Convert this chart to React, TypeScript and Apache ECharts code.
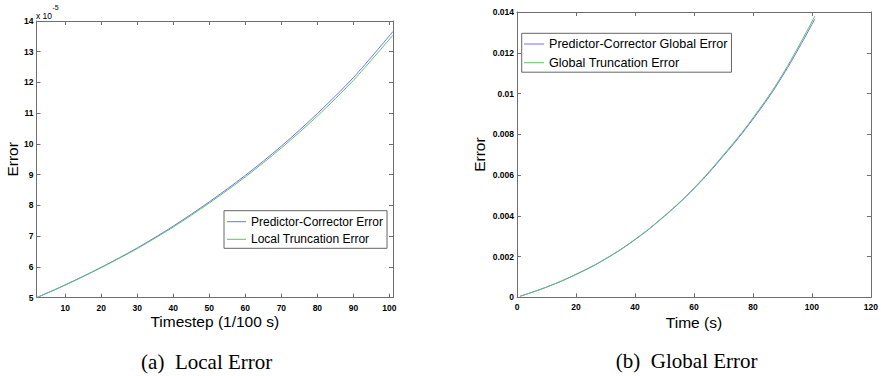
import React, { useEffect, useRef } from "react";
import * as echarts from "echarts";

// Left panel: local error (values in units of 1e-5)
const localSteps = [2, 10, 20, 30, 40, 50, 60, 70, 80, 90, 101];
const pcLocalError = [5.0, 5.42, 5.99, 6.62, 7.33, 8.12, 8.98, 9.93, 10.99, 12.16, 13.66];
const truncLocalError = [5.0, 5.41, 5.98, 6.6, 7.3, 8.08, 8.93, 9.87, 10.91, 12.07, 13.54];

// Right panel: global error
const globalTimes = [1, 10, 20, 30, 40, 50, 60, 70, 80, 90, 101];
const pcGlobalError = [0.00005, 0.0005, 0.00112, 0.00188, 0.00283, 0.00398, 0.00533, 0.00694, 0.00874, 0.01085, 0.01366];
const truncGlobalError = [0.00005, 0.0005, 0.00113, 0.00189, 0.00284, 0.004, 0.00536, 0.00699, 0.0088, 0.01093, 0.0138];

const localYTicks = { min: 5, max: 14, step: 1 };
const globalYTicks = { min: 0, max: 0.014, step: 0.002 };
const globalXTicks = { min: 0, max: 120, step: 20 };

const names = {
  pcLocal: "Predictor-Corrector Error",
  ltLocal: "Local Truncation Error",
  pcGlobal: "Predictor-Corrector Global Error",
  gtGlobal: "Global Truncation Error",
};

const BLUE = "#6f6fff";
const GREEN = "#5fc45f";
const AXIS = "#6e6e6e";
const SANS = "'Liberation Sans', Arial, sans-serif";
const SERIF = "'Liberation Serif', 'Times New Roman', serif";

const pairs = (xs: number[], ys: number[]) => xs.map((x, i) => [x, ys[i]]);

export default function App() {
  const ref = useRef<HTMLDivElement>(null);
  useEffect(() => {
    if (!ref.current) return;
    const chart = echarts.init(ref.current, undefined, { renderer: "svg" });
    const line = { lineStyle: { color: AXIS, width: 1 } };
    const tick = { inside: true, length: 4, lineStyle: { color: AXIS, width: 1 } };
    const lbl = { fontSize: 8.5, fontFamily: SANS, color: "#000", fontWeight: "bold" as const };
    const nameStyle = { fontSize: 15.5, fontFamily: SANS, color: "#000" };

    const mkX = (grid: number, pos: string, extra: any) => ({
      type: "value",
      gridIndex: grid,
      position: pos,
      axisLine: { show: true, onZero: false, ...line },
      axisTick: tick,
      splitLine: { show: false },
      nameMoveOverlap: false,
      ...extra,
    });

    const option: any = {
      animation: false,
      backgroundColor: "#fff",
      grid: [
        { left: 36.5, top: 21, width: 356.5, height: 276.7 },
        { left: 517, top: 12, width: 357.3, height: 285.3 },
      ],
      xAxis: [
        mkX(0, "bottom", {
          min: 2,
          max: 101,
          splitNumber: 10,
          axisLabel: { ...lbl, margin: 6, formatter: (v: number) => (v % 10 === 0 ? String(v) : "") },
          name: "Timestep (1/100 s)",
          nameLocation: "middle",
          nameGap: 15.5,
          nameTextStyle: nameStyle,
        }),
        mkX(0, "top", { min: 2, max: 101, splitNumber: 10, axisLabel: { show: false } }),
        mkX(1, "bottom", {
          min: globalXTicks.min,
          max: globalXTicks.max,
          interval: globalXTicks.step,
          axisLabel: { ...lbl, margin: 5 },
          name: "Time (s)",
          nameLocation: "middle",
          nameGap: 17,
          nameTextStyle: nameStyle,
        }),
        mkX(1, "top", { min: globalXTicks.min, max: globalXTicks.max, interval: globalXTicks.step, axisLabel: { show: false } }),
      ],
      yAxis: [
        mkX(0, "left", {
          min: localYTicks.min,
          max: localYTicks.max,
          interval: localYTicks.step,
          axisLabel: { ...lbl, margin: 3 },
          name: "Error",
          nameLocation: "middle",
          nameRotate: 90,
          nameGap: 16,
          nameTextStyle: nameStyle,
        }),
        mkX(0, "right", { min: localYTicks.min, max: localYTicks.max, interval: localYTicks.step, axisLabel: { show: false } }),
        mkX(1, "left", {
          min: globalYTicks.min,
          max: globalYTicks.max,
          interval: globalYTicks.step,
          axisLabel: { ...lbl, margin: 3, formatter: (v: number) => (v === 0 ? "0" : String(+v.toFixed(3))) },
          name: "Error",
          nameLocation: "middle",
          nameRotate: 90,
          nameGap: 30,
          nameTextStyle: nameStyle,
        }),
        mkX(1, "right", { min: globalYTicks.min, max: globalYTicks.max, interval: globalYTicks.step, axisLabel: { show: false } }),
      ],
      legend: [
        {
          orient: "vertical",
          left: 224,
          top: 210.7,
          data: [names.pcLocal, names.ltLocal],
          icon: "rect",
          itemWidth: 19,
          itemHeight: 1,
          itemGap: 3.6,
          padding: [4, 4, 2, 3],
          borderColor: "#666",
          borderWidth: 1,
          backgroundColor: "#fff",
          selectedMode: false,
          textStyle: { fontSize: 12, fontFamily: SANS, color: "#000", lineHeight: 14 },
        },
        {
          orient: "vertical",
          left: 521.7,
          top: 33.3,
          data: [names.pcGlobal, names.gtGlobal],
          icon: "rect",
          itemWidth: 20,
          itemHeight: 1,
          itemGap: 3.7,
          padding: [3.2, 4, 2, 2.3],
          borderColor: "#666",
          borderWidth: 1,
          backgroundColor: "#fff",
          selectedMode: false,
          textStyle: { fontSize: 12.6, fontFamily: SANS, color: "#000", lineHeight: 15 },
        },
      ],
      series: [
        {
          name: names.pcLocal, type: "line", xAxisIndex: 0, yAxisIndex: 0, data: pairs(localSteps, pcLocalError),
          showSymbol: false, symbol: "none", smooth: 0.3, color: BLUE, lineStyle: { color: BLUE, width: 1 },
        },
        {
          name: names.ltLocal, type: "line", xAxisIndex: 0, yAxisIndex: 0, data: pairs(localSteps, truncLocalError),
          showSymbol: false, symbol: "none", smooth: 0.3, color: GREEN, lineStyle: { color: GREEN, width: 1 },
        },
        {
          name: names.pcGlobal, type: "line", xAxisIndex: 2, yAxisIndex: 2, data: pairs(globalTimes, pcGlobalError),
          showSymbol: false, symbol: "none", smooth: 0.4, color: BLUE, lineStyle: { color: BLUE, width: 1 },
        },
        {
          name: names.gtGlobal, type: "line", xAxisIndex: 2, yAxisIndex: 2, data: pairs(globalTimes, truncGlobalError),
          showSymbol: false, symbol: "none", smooth: 0.4, color: GREEN, lineStyle: { color: GREEN, width: 1 },
        },
      ],
      graphic: [
        { type: "text", x: 36, y: 15.5, style: { text: "x 10", font: `8.5px ${SANS}`, fill: "#000", textAlign: "left", textVerticalAlign: "middle" } },
        { type: "text", x: 52.5, y: 7.5, style: { text: "-5", font: `7px ${SANS}`, fill: "#000", textAlign: "left", textVerticalAlign: "middle" } },
        { type: "text", x: 206.7, y: 361.5, style: { text: "(a)  Local Error", font: `21px ${SERIF}`, fill: "#000", textAlign: "center", textVerticalAlign: "middle" } },
        { type: "text", x: 686.7, y: 360.5, style: { text: "(b)  Global Error", font: `21px ${SERIF}`, fill: "#000", textAlign: "center", textVerticalAlign: "middle" } },
      ],
    };
    chart.setOption(option);
    return () => chart.dispose();
  }, []);
  return <div ref={ref} style={{ position: "absolute", left: 0, top: 0, width: 881, height: 376 }} />;
}
